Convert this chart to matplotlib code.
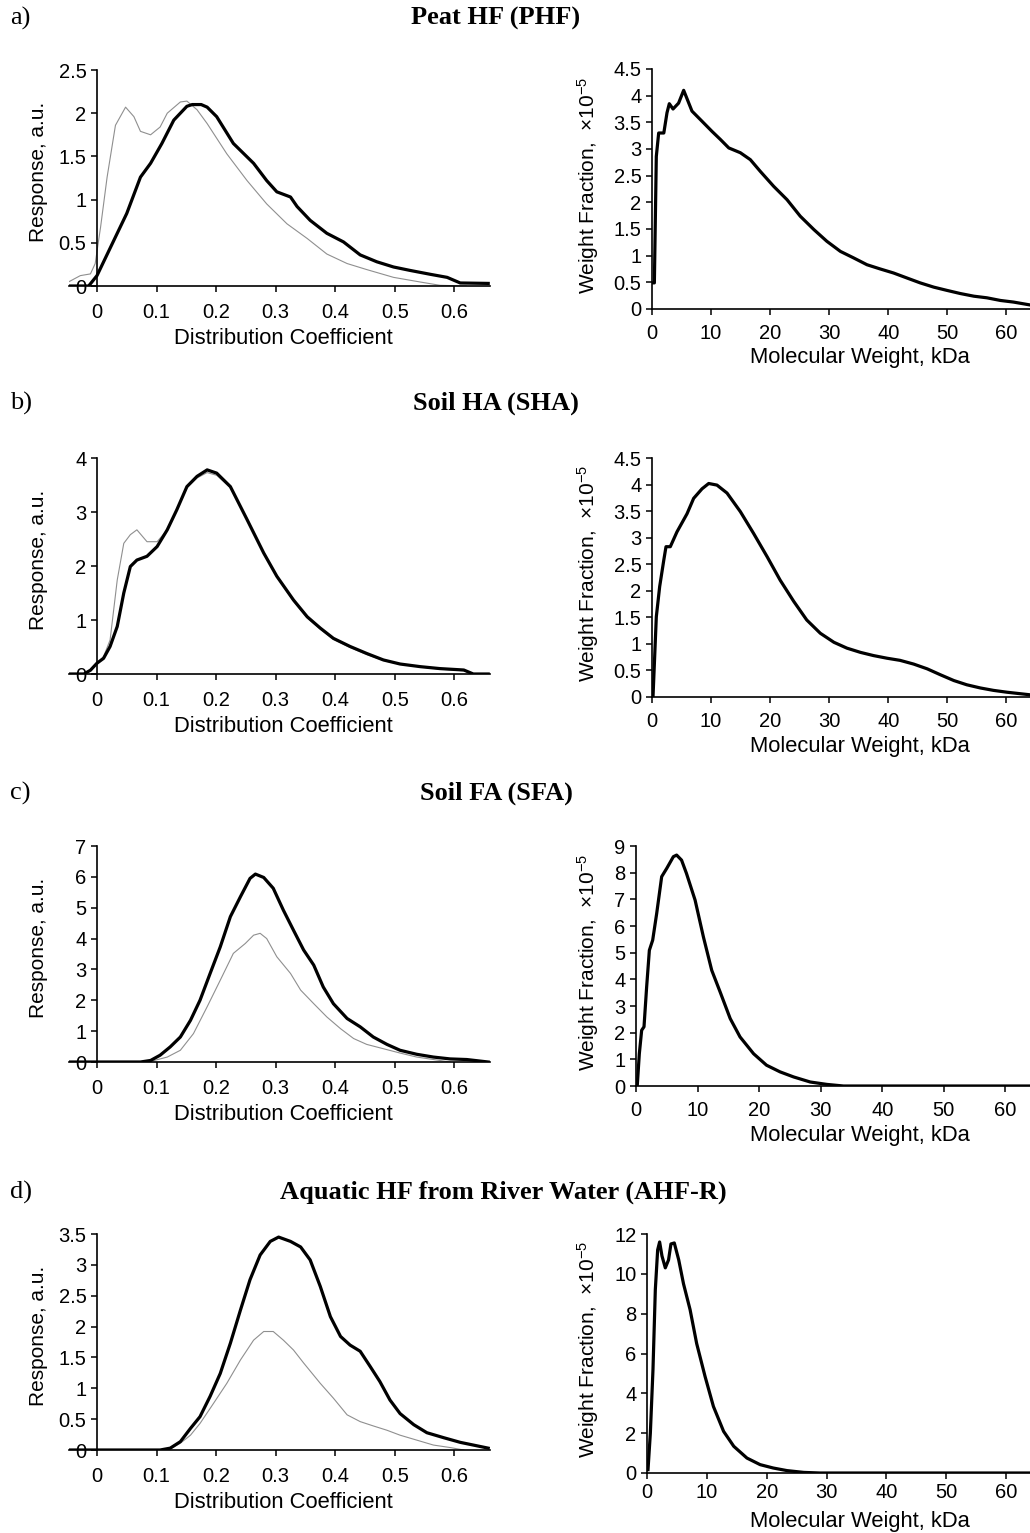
import numpy as np
import matplotlib
matplotlib.use('Agg')
import matplotlib.pyplot as plt

plt.rcParams['font.family'] = 'Liberation Sans'
plt.rcParams['mathtext.fontset'] = 'custom'
plt.rcParams['mathtext.rm'] = 'Liberation Sans'
plt.rcParams['mathtext.it'] = 'Liberation Sans:italic'
plt.rcParams['mathtext.bf'] = 'Liberation Sans:bold'

# ---- distribution coefficient curves (thick = UV, thin = second detector)
kd_a_x = [-0.047, -0.014, 0, 0.034, 0.05, 0.073, 0.09, 0.109, 0.129, 0.151, 0.16, 0.175, 0.185, 0.201,
          0.229, 0.263, 0.285, 0.302, 0.325, 0.336, 0.358, 0.386, 0.414, 0.442, 0.47, 0.498, 0.526,
          0.56, 0.588, 0.61, 0.657]
kd_a_y = [0, 0, 0.12, 0.61, 0.84, 1.26, 1.42, 1.65, 1.92, 2.08, 2.1, 2.1, 2.07, 1.96,
          1.65, 1.42, 1.22, 1.09, 1.03, 0.92, 0.76, 0.61, 0.51, 0.36, 0.28, 0.22, 0.18,
          0.135, 0.10, 0.035, 0.03]
kd_a_x2 = [-0.047, -0.028, -0.011, -0.003, 0.006, 0.017, 0.031, 0.048, 0.062, 0.073, 0.09, 0.106,
           0.118, 0.14, 0.151, 0.168, 0.185, 0.218, 0.252, 0.285, 0.319, 0.353, 0.386, 0.42, 0.453,
           0.498, 0.543, 0.576, 0.62]
kd_a_y2 = [0.05, 0.12, 0.14, 0.26, 0.68, 1.26, 1.86, 2.07, 1.96, 1.79, 1.75, 1.84,
           2.0, 2.13, 2.14, 2.04, 1.88, 1.53, 1.22, 0.95, 0.72, 0.55, 0.37, 0.26, 0.19,
           0.10, 0.046, 0.008, 0]

kd_b_x = [-0.047, -0.022, -0.011, 0, 0.011, 0.022, 0.034, 0.045, 0.056, 0.067, 0.084, 0.101, 0.118,
          0.134, 0.151, 0.168, 0.185, 0.201, 0.224, 0.252, 0.28, 0.302, 0.33, 0.353, 0.375, 0.397,
          0.425, 0.453, 0.481, 0.509, 0.543, 0.576, 0.616, 0.632, 0.657]
kd_b_y = [0, 0, 0.07, 0.2, 0.29, 0.51, 0.88, 1.5, 1.99, 2.11, 2.18, 2.36, 2.67,
          3.04, 3.47, 3.66, 3.78, 3.72, 3.47, 2.86, 2.24, 1.81, 1.37, 1.06, 0.85, 0.66,
          0.51, 0.38, 0.26, 0.185, 0.136, 0.1, 0.074, 0, 0]
kd_b_y2 = [0, 0, 0.07, 0.2, 0.32, 0.63, 1.74, 2.42, 2.58, 2.67, 2.45, 2.45, 2.67,
           3.04, 3.45, 3.63, 3.73, 3.68, 3.45, 2.88, 2.25, 1.8, 1.35, 1.04, 0.83, 0.64,
           0.49, 0.36, 0.25, 0.18, 0.13, 0.09, 0.06, 0, 0]

kd_c_x = [-0.047, 0.073, 0.09, 0.106, 0.123, 0.14, 0.157, 0.173, 0.19, 0.207, 0.224, 0.241, 0.257,
          0.266, 0.28, 0.296, 0.313, 0.33, 0.347, 0.364, 0.38, 0.397, 0.42, 0.442, 0.464, 0.487,
          0.509, 0.537, 0.565, 0.593, 0.621, 0.657]
kd_c_y = [0, 0, 0.05, 0.22, 0.49, 0.81, 1.35, 2.0, 2.87, 3.73, 4.71, 5.36, 5.95,
          6.09, 5.98, 5.63, 4.92, 4.27, 3.63, 3.14, 2.43, 1.89, 1.41, 1.14, 0.81, 0.57,
          0.38, 0.25, 0.16, 0.1, 0.08, 0]
kd_c_x2 = [-0.047, 0.07, 0.09, 0.118, 0.14, 0.162, 0.185, 0.207, 0.229, 0.249, 0.263, 0.274, 0.285,
           0.302, 0.325, 0.342, 0.364, 0.386, 0.409, 0.431, 0.453, 0.481, 0.509, 0.537, 0.565, 0.593]
kd_c_y2 = [0, 0, 0.02, 0.16, 0.38, 0.92, 1.79, 2.65, 3.52, 3.84, 4.11, 4.17, 4.0,
           3.41, 2.87, 2.33, 1.89, 1.46, 1.08, 0.76, 0.57, 0.43, 0.29, 0.16, 0.08, 0]

kd_d_x = [-0.047, 0.106, 0.123, 0.14, 0.157, 0.173, 0.19, 0.207, 0.224, 0.241, 0.257, 0.274, 0.291,
          0.305, 0.325, 0.342, 0.358, 0.375, 0.392, 0.409, 0.425, 0.442, 0.459, 0.475, 0.492, 0.509,
          0.532, 0.554, 0.582, 0.61, 0.632, 0.657]
kd_d_y = [0, 0, 0.03, 0.135, 0.35, 0.54, 0.87, 1.24, 1.73, 2.27, 2.76, 3.16, 3.38,
          3.45, 3.38, 3.29, 3.08, 2.65, 2.16, 1.84, 1.70, 1.6, 1.35, 1.11, 0.81, 0.59,
          0.41, 0.28, 0.2, 0.124, 0.08, 0.03]
kd_d_x2 = [-0.047, 0.12, 0.14, 0.157, 0.173, 0.196, 0.218, 0.241, 0.263, 0.28, 0.296, 0.313, 0.33,
           0.347, 0.375, 0.397, 0.42, 0.442, 0.464, 0.487, 0.509, 0.537, 0.565, 0.593, 0.616]
kd_d_y2 = [0, 0, 0.11, 0.24, 0.43, 0.76, 1.08, 1.46, 1.78, 1.92, 1.92, 1.78, 1.62,
           1.41, 1.08, 0.84, 0.57, 0.46, 0.39, 0.32, 0.24, 0.16, 0.08, 0.04, 0]

# ---- molecular weight distributions (x10^-5)
mw_a_x = [0, 0.4, 0.73, 1.13, 2.0, 2.54, 2.93, 3.56, 4.5, 5.36, 5.76, 6.77, 8.47, 10.16, 11.57, 13.0,
          14.96, 16.65, 18.34, 20.6, 22.86, 25.1, 27.4, 29.6, 31.9, 34.1, 36.4, 38.66, 40.9, 43.2,
          45.4, 47.7, 49.9, 52.2, 54.5, 56.7, 59.0, 61.2, 63.8]
mw_a_y = [0.49, 0.49, 2.86, 3.3, 3.3, 3.68, 3.85, 3.75, 3.86, 4.1, 3.99, 3.71, 3.52, 3.33, 3.18, 3.02,
          2.93, 2.8, 2.58, 2.3, 2.05, 1.74, 1.49, 1.27, 1.08, 0.96, 0.83, 0.75, 0.675, 0.58,
          0.49, 0.41, 0.35, 0.29, 0.24, 0.21, 0.16, 0.13, 0.08]

mw_b_x = [0.17, 0.73, 1.3, 2.0, 2.37, 3.1, 4.23, 5.93, 7.05, 8.47, 9.6, 11.0, 12.7, 14.96, 17.2, 19.5,
          21.7, 24.0, 26.2, 28.5, 30.8, 33.0, 35.3, 37.5, 39.8, 42.0, 44.3, 46.6, 48.8, 51.1, 53.3,
          55.6, 57.8, 60.1, 63.8]
mw_b_y = [0, 1.51, 2.08, 2.58, 2.83, 2.83, 3.11, 3.45, 3.74, 3.92, 4.02, 3.99, 3.84, 3.49, 3.08, 2.64,
          2.2, 1.8, 1.45, 1.2, 1.03, 0.92, 0.84, 0.78, 0.73, 0.69, 0.62, 0.53, 0.42, 0.31, 0.23,
          0.17, 0.125, 0.09, 0.044]

mw_c_x = [0.2, 0.54, 0.92, 1.3, 1.73, 2.17, 2.71, 3.36, 4.17, 4.99, 6.07, 6.6, 7.4, 8.2, 9.6, 10.95,
          12.3, 13.66, 15.3, 16.9, 19.1, 21.2, 23.4, 25.6, 28.3, 31.0, 33.7, 64]
mw_c_y = [0, 1.21, 2.09, 2.22, 3.72, 5.09, 5.47, 6.47, 7.85, 8.16, 8.6, 8.66, 8.47, 7.97, 6.97, 5.59,
          4.34, 3.53, 2.53, 1.84, 1.21, 0.78, 0.53, 0.34, 0.15, 0.06, 0, 0]

mw_d_x = [0.17, 0.56, 1.0, 1.39, 1.78, 2.11, 2.5, 3.06, 3.6, 4.0, 4.56, 5.3, 6.1, 7.2, 8.3, 9.7,
          11.1, 12.8, 14.5, 16.7, 18.9, 21.1, 23.4, 26.2, 28.9, 64]
mw_d_y = [0.17, 2.0, 5.2, 9.2, 11.2, 11.6, 10.9, 10.3, 10.7, 11.5, 11.55, 10.7, 9.5, 8.2, 6.5, 4.85,
          3.34, 2.09, 1.34, 0.75, 0.42, 0.25, 0.12, 0.03, 0, 0]

letters = ['a)', 'b)', 'c)', 'd)']
titles = ['Peat HF (PHF)', 'Soil HA (SHA)', 'Soil FA (SFA)',
          'Aquatic HF from River Water (AHF-R)']

W, H = 1030, 1533
fig = plt.figure(figsize=(W / 100, H / 100), dpi=100)


def add_ax(l, t, r, b):
    return fig.add_axes([l / W, 1 - b / H, (r - l) / W, (b - t) / H])


def fx(px):
    return px / W


def fy(py):
    return 1 - py / H


def style(ax, xpad):
    for s in ['top', 'right']:
        ax.spines[s].set_visible(False)
    for s in ['left', 'bottom']:
        ax.spines[s].set_linewidth(1.2)
    ax.tick_params(axis='both', direction='out', length=4.5, width=1.1, labelsize=14.5)
    ax.tick_params(axis='x', pad=xpad)
    ax.tick_params(axis='y', pad=3)


def fmt(vals):
    return ['%g' % v for v in vals]


# left panels: (top, bottom, ymax, ystep)
left_layout = [(70, 286, 2.5, 0.5), (458, 674, 4, 1), (846, 1062, 7, 1), (1234, 1450, 3.5, 0.5)]
# right panels: (left, top, bottom, ymax, ystep, xtick pad)
right_layout = [(652, 69, 309, 4.5, 0.5, 6.5), (652, 458, 697, 4.5, 0.5, 6.5),
                (636, 846, 1086, 9, 1, 6), (647, 1234, 1473, 12, 2, 2.5)]
title_y = [18, 403, 793, 1192]
title_x = [496, 496, 496, 503]
xlab_left_y = [339, 727, 1115, 1503]
xlab_right_y = [357, 747, 1136, 1521]

kd_thick = [(kd_a_x, kd_a_y), (kd_b_x, kd_b_y), (kd_c_x, kd_c_y), (kd_d_x, kd_d_y)]
kd_thin = [(kd_a_x2, kd_a_y2), (kd_b_x, kd_b_y2), (kd_c_x2, kd_c_y2), (kd_d_x2, kd_d_y2)]
mw = [(mw_a_x, mw_a_y), (mw_b_x, mw_b_y), (mw_c_x, mw_c_y), (mw_d_x, mw_d_y)]

for i in range(4):
    # headings
    fig.text(fx(10), fy(title_y[i]), letters[i], ha='left', va='center',
             family='Liberation Serif', size=19)
    fig.text(fx(title_x[i]), fy(title_y[i]), titles[i], ha='center', va='center',
             family='Liberation Serif', weight='bold', size=19)

    # left: distribution coefficient
    t, b, ymax, ystep = left_layout[i]
    ax = add_ax(69, t, 490, b)
    ax.plot(kd_thin[i][0], kd_thin[i][1], color='#8f8f8f', lw=0.8)
    ax.plot(kd_thick[i][0], kd_thick[i][1], color='black', lw=2.3, solid_joinstyle='round')
    ax.set_xlim(-0.047, 0.66)
    ax.set_ylim(0, ymax)
    ax.spines['left'].set_position(('data', 0))
    xt = np.arange(0, 0.61, 0.1)
    ax.set_xticks(xt)
    ax.set_xticklabels(fmt(np.round(xt, 1)))
    yt = np.arange(0, ymax + 1e-9, ystep)
    ax.set_yticks(yt)
    ax.set_yticklabels(fmt(yt))
    style(ax, 8)
    fig.text(fx(38), fy((t + b) / 2 - 6), 'Response, a.u.', rotation=90,
             ha='center', va='center', size=15)
    fig.text(fx(283), fy(xlab_left_y[i]), 'Distribution Coefficient',
             ha='center', va='center', size=15.8)

    # right: molecular weight
    l, t, b, ymax, ystep, xpad = right_layout[i]
    ax = add_ax(l, t, 1030, b)
    ax.plot(mw[i][0], mw[i][1], color='black', lw=2.3, solid_joinstyle='round')
    ax.set_xlim(0, 64)
    ax.set_ylim(0, ymax)
    xt = np.arange(0, 61, 10)
    ax.set_xticks(xt)
    ax.set_xticklabels(fmt(xt))
    yt = np.arange(0, ymax + 1e-9, ystep)
    ax.set_yticks(yt)
    ax.set_yticklabels(fmt(yt))
    style(ax, xpad)
    fig.text(fx(588), fy((t + b) / 2 - 4), 'Weight Fraction,  \u00d710$^{-5}$', rotation=90,
             ha='center', va='center', size=15)
    fig.text(fx(860), fy(xlab_right_y[i]), 'Molecular Weight, kDa',
             ha='center', va='center', size=15.8)

fig.savefig('out.png', dpi=100)
